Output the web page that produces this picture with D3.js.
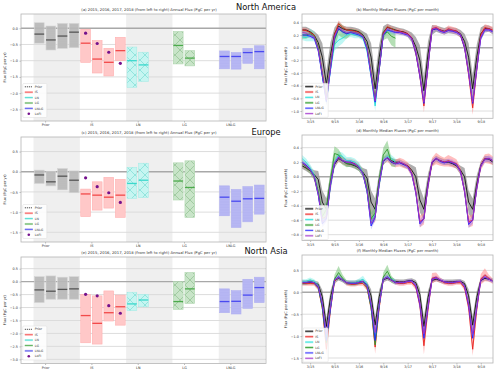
<!DOCTYPE html>
<html>
<head>
<meta charset="utf-8">
<script src="https://cdn.jsdelivr.net/npm/d3@7"></script>
<style>
  body { margin: 0; background: #fff; }
  text { font-family: "DejaVu Sans", sans-serif; }
</style>
</head>
<body>
<svg id="chart" width="500" height="374"></svg>
<script>
// ---- data ----
var regions = ["North America", "Europe", "North Asia"];
var groups = ["Prior", "IS", "LN", "LG", "LNLG"];
var seriesNames = ["Prior", "IS", "LN", "LG", "LNLG", "LoFI"];
var monthTickIdx = [2, 8, 14, 20, 26, 32, 38, 44];
var monthTickLabels = ["3/15", "9/15", "3/16", "9/16", "3/17", "9/17", "3/18", "9/18"];

// annual flux per year: [top, median, bottom] (PgC per yr)
var naPrior = [[0.17, -0.18, -0.46], [0.07, -0.36, -0.67], [0.15, -0.24, -0.62], [0.15, -0.12, -0.60]];
var naIS = [[-0.03, -0.46, -1.05], [-0.38, -0.95, -1.38], [-0.62, -1.05, -1.47], [-0.28, -0.69, -1.00]];
var naLN = [[-0.58, -1.00, -1.82], [-0.74, -1.13, -1.64]];
var naLG = [[-0.10, -0.53, -1.10], [-0.69, -0.92, -1.16]];
var naLNLG = [[-0.70, -0.87, -1.25], [-0.75, -0.87, -1.26], [-0.62, -0.75, -1.08], [-0.54, -0.72, -1.25]];
var naLoFI = [-0.15, -0.47, -0.74, -1.08];

var euPrior = [[0.04, -0.08, -0.29], [0.00, -0.25, -0.35], [0.08, -0.11, -0.45], [0.02, -0.21, -0.52]];
var euIS = [[-0.43, -0.55, -1.11], [-0.25, -0.58, -0.95], [-0.14, -0.63, -0.90], [-0.19, -0.58, -1.13]];
var euLN = [[0.11, -0.29, -0.66], [0.21, -0.21, -0.64]];
var euLG = [[0.22, -0.23, -0.70], [0.27, -0.39, -1.13]];
var euLNLG = [[-0.35, -0.63, -1.09], [-0.44, -0.73, -1.38], [-0.37, -0.67, -1.24], [-0.33, -0.66, -1.05]];
var euLoFI = [-0.15, -0.37, -0.52, -0.76];

var asPrior = [[0.19, -0.32, -0.81], [0.22, -0.37, -0.68], [0.17, -0.30, -0.68], [0.19, -0.28, -0.68]];
var asIS = [[-0.49, -1.31, -2.36], [-0.55, -1.61, -2.41], [-0.36, -1.20, -1.52], [-0.52, -0.97, -1.68]];
var asLN = [[-0.41, -0.86, -1.12], [-0.49, -0.71, -0.97]];
var asLG = [[0.00, -0.77, -1.07], [0.35, -0.28, -0.84]];
var asLNLG = [[-0.28, -0.77, -1.20], [-0.35, -0.76, -1.25], [0.09, -0.52, -1.03], [0.17, -0.23, -0.81]];
var asLoFI = [-0.49, -0.55, -0.93, -1.22];

// monthly median fluxes Jan 2015 - Dec 2018 (PgC per month), M = median, S = spread
var naPriorM = [0.28,0.28,0.25,0.20,0.08,-0.15,-0.58,-0.12,0.22,0.34,0.30,0.28,
  0.28,0.27,0.25,0.20,0.10,-0.15,-0.65,-0.15,0.24,0.32,0.30,0.28,
  0.26,0.25,0.22,0.16,0.02,-0.20,-0.68,-0.10,0.28,0.30,0.28,0.26,
  0.28,0.27,0.26,0.22,0.10,-0.15,-0.65,-0.15,0.22,0.30,0.30,0.26];
var naPriorS = [0.05,0.05,0.05,0.06,0.12,0.22,0.22,0.20,0.10,0.06,0.05,0.05,
  0.05,0.05,0.05,0.06,0.12,0.22,0.22,0.20,0.10,0.06,0.05,0.05,
  0.05,0.05,0.05,0.08,0.15,0.24,0.22,0.20,0.08,0.05,0.05,0.05,
  0.05,0.05,0.05,0.06,0.12,0.22,0.22,0.20,0.10,0.06,0.05,0.05];
var naISM = [0.28,0.27,0.24,0.20,0.00,-0.40,-0.82,-0.30,0.20,0.38,0.32,0.28,
  0.27,0.26,0.24,0.18,0.00,-0.40,-0.85,-0.35,0.22,0.33,0.30,0.27,
  0.26,0.24,0.22,0.15,-0.08,-0.45,-0.92,-0.30,0.30,0.32,0.28,0.25,
  0.30,0.28,0.26,0.20,0.00,-0.42,-0.95,-0.35,0.20,0.32,0.30,0.28];
var naISS = [0.04,0.04,0.04,0.04,0.05,0.07,0.09,0.07,0.05,0.05,0.04,0.04,
  0.04,0.04,0.04,0.04,0.05,0.07,0.08,0.07,0.05,0.04,0.04,0.04,
  0.04,0.04,0.04,0.04,0.05,0.07,0.10,0.07,0.05,0.04,0.04,0.04,
  0.05,0.05,0.05,0.04,0.05,0.08,0.11,0.08,0.05,0.05,0.05,0.05];
var naLNM = [0.17,0.16,0.20,0.18,-0.02,-0.45,-0.85,-0.35,0.05,0.12,0.15,0.20,
  0.22,0.20,0.20,0.16,-0.05,-0.45,-0.92,-0.35,0.20,0.28,0.26,0.25];
var naLNS = [0.05,0.06,0.10,0.08,0.05,0.05,0.08,0.08,0.10,0.10,0.08,0.05,
  0.05,0.05,0.05,0.05,0.05,0.06,0.08,0.06,0.05,0.05,0.05,0.05];
var naLGM = [0.20,0.20,0.22,0.18,0.00,-0.42,-0.80,-0.30,0.12,0.30,0.25,0.22,
  0.25,0.24,0.22,0.18,0.02,-0.40,-0.82,-0.30,0.20,0.25,0.18,0.15];
var naLGS = [0.06,0.06,0.05,0.05,0.05,0.06,0.06,0.08,0.12,0.10,0.10,0.08,
  0.05,0.05,0.05,0.05,0.05,0.05,0.06,0.08,0.08,0.10,0.14,0.15];
var naLNLGM = [0.20,0.20,0.18,0.15,-0.05,-0.45,-0.85,-0.35,0.15,0.30,0.25,0.22,
  0.24,0.22,0.20,0.17,-0.02,-0.45,-0.86,-0.35,0.20,0.28,0.26,0.24,
  0.24,0.22,0.20,0.14,-0.08,-0.45,-0.88,-0.30,0.28,0.30,0.26,0.24,
  0.27,0.26,0.24,0.20,0.00,-0.40,-0.88,-0.35,0.15,0.28,0.28,0.25];
var naLNLGS = [0.03,0.03,0.03,0.03,0.04,0.05,0.05,0.05,0.04,0.03,0.03,0.03,
  0.03,0.03,0.03,0.03,0.04,0.05,0.05,0.05,0.04,0.03,0.03,0.03,
  0.03,0.03,0.03,0.03,0.04,0.05,0.05,0.05,0.04,0.03,0.03,0.03,
  0.03,0.03,0.03,0.03,0.04,0.05,0.05,0.05,0.04,0.03,0.03,0.03];
var naLoFIM = [0.24,0.23,0.20,0.17,-0.03,-0.42,-0.83,-0.33,0.18,0.32,0.27,0.24,
  0.25,0.24,0.22,0.18,0.00,-0.42,-0.84,-0.33,0.21,0.30,0.27,0.25,
  0.25,0.23,0.21,0.15,-0.06,-0.43,-0.86,-0.28,0.29,0.31,0.27,0.25,
  0.28,0.27,0.25,0.21,0.02,-0.40,-0.86,-0.33,0.17,0.29,0.29,0.26];
var naLoFIS = [0.03,0.03,0.03,0.03,0.04,0.05,0.06,0.05,0.04,0.03,0.03,0.03,
  0.03,0.03,0.03,0.03,0.04,0.05,0.06,0.05,0.04,0.03,0.03,0.03,
  0.03,0.03,0.03,0.03,0.04,0.05,0.06,0.05,0.04,0.03,0.03,0.03,
  0.03,0.03,0.03,0.03,0.04,0.05,0.06,0.05,0.04,0.03,0.03,0.03];

var euPriorM = [0.15,0.12,0.08,0.03,-0.04,-0.35,-0.45,-0.08,0.17,0.25,0.22,0.18,
  0.17,0.15,0.12,0.06,-0.02,-0.35,-0.45,-0.05,0.21,0.26,0.22,0.20,
  0.20,0.17,0.15,0.09,0.00,-0.32,-0.45,-0.08,0.19,0.25,0.22,0.20,
  0.20,0.18,0.15,0.09,0.00,-0.35,-0.45,-0.10,0.16,0.25,0.24,0.20];
var euPriorS = [0.04,0.04,0.04,0.06,0.12,0.16,0.15,0.12,0.05,0.04,0.04,0.04,
  0.04,0.04,0.04,0.06,0.12,0.16,0.15,0.12,0.05,0.04,0.04,0.04,
  0.04,0.04,0.04,0.07,0.13,0.17,0.15,0.12,0.05,0.04,0.04,0.04,
  0.04,0.04,0.04,0.06,0.12,0.16,0.15,0.12,0.05,0.04,0.04,0.04];
var euISM = [0.18,0.15,0.10,0.00,-0.22,-0.58,-0.55,-0.10,0.20,0.26,0.22,0.20,
  0.20,0.18,0.14,0.05,-0.18,-0.60,-0.55,-0.08,0.22,0.26,0.20,0.18,
  0.20,0.18,0.15,0.05,-0.20,-0.62,-0.58,-0.12,0.20,0.25,0.22,0.20,
  0.22,0.20,0.18,0.08,-0.20,-0.62,-0.60,-0.15,0.15,0.25,0.25,0.22];
var euISS = [0.05,0.05,0.05,0.05,0.06,0.07,0.07,0.06,0.05,0.05,0.05,0.05,
  0.05,0.05,0.05,0.05,0.06,0.07,0.07,0.06,0.05,0.05,0.05,0.05,
  0.06,0.06,0.05,0.05,0.06,0.08,0.08,0.07,0.06,0.08,0.07,0.06,
  0.08,0.07,0.06,0.05,0.06,0.08,0.08,0.07,0.06,0.06,0.07,0.06];
var euLNM = [0.25,0.20,0.12,0.02,-0.22,-0.60,-0.55,-0.12,0.20,0.30,0.28,0.22,
  0.22,0.20,0.15,0.05,-0.20,-0.62,-0.52,-0.10,0.22,0.28,0.25,0.20];
var euLNS = [0.05,0.05,0.05,0.05,0.06,0.06,0.06,0.06,0.05,0.05,0.05,0.05,
  0.05,0.05,0.05,0.05,0.05,0.06,0.06,0.06,0.05,0.05,0.05,0.05];
var euLGM = [0.18,0.14,0.08,0.00,-0.20,-0.55,-0.45,-0.05,0.32,0.30,0.22,0.18,
  0.18,0.16,0.12,0.05,-0.15,-0.58,-0.50,-0.05,0.30,0.38,0.20,0.18];
var euLGS = [0.04,0.04,0.04,0.05,0.08,0.10,0.12,0.12,0.10,0.08,0.06,0.05,
  0.04,0.04,0.04,0.05,0.06,0.08,0.10,0.10,0.10,0.12,0.06,0.05];
var euLNLGM = [0.20,0.16,0.10,0.00,-0.25,-0.65,-0.58,-0.12,0.18,0.27,0.22,0.20,
  0.20,0.17,0.13,0.04,-0.20,-0.68,-0.56,-0.10,0.22,0.26,0.20,0.18,
  0.19,0.17,0.14,0.04,-0.22,-0.65,-0.58,-0.12,0.20,0.25,0.21,0.19,
  0.21,0.19,0.17,0.07,-0.20,-0.66,-0.60,-0.16,0.15,0.24,0.25,0.22];
var euLNLGS = [0.03,0.03,0.03,0.03,0.04,0.05,0.05,0.04,0.03,0.03,0.03,0.03,
  0.03,0.03,0.03,0.03,0.04,0.05,0.05,0.04,0.03,0.03,0.03,0.03,
  0.03,0.03,0.03,0.03,0.04,0.05,0.05,0.04,0.03,0.03,0.03,0.03,
  0.03,0.03,0.03,0.03,0.04,0.05,0.05,0.04,0.03,0.04,0.04,0.04];
var euLoFIM = [0.19,0.15,0.09,0.00,-0.24,-0.62,-0.56,-0.11,0.19,0.27,0.22,0.20,
  0.19,0.17,0.13,0.04,-0.19,-0.64,-0.55,-0.09,0.22,0.26,0.21,0.18,
  0.20,0.18,0.14,0.04,-0.21,-0.63,-0.58,-0.12,0.20,0.25,0.22,0.20,
  0.21,0.20,0.17,0.07,-0.20,-0.64,-0.60,-0.16,0.15,0.24,0.25,0.22];
var euLoFIS = [0.03,0.03,0.03,0.03,0.04,0.05,0.05,0.04,0.03,0.03,0.03,0.03,
  0.03,0.03,0.03,0.03,0.04,0.05,0.05,0.04,0.03,0.03,0.03,0.03,
  0.03,0.03,0.03,0.03,0.04,0.05,0.05,0.04,0.03,0.03,0.03,0.03,
  0.04,0.04,0.03,0.03,0.04,0.05,0.05,0.04,0.03,0.04,0.04,0.04];

var asPriorM = [0.22,0.22,0.23,0.22,0.18,-0.10,-0.78,-0.12,0.27,0.32,0.28,0.22,
  0.22,0.22,0.24,0.24,0.18,-0.08,-0.75,-0.10,0.29,0.32,0.28,0.25,
  0.24,0.24,0.26,0.27,0.22,-0.05,-0.78,-0.12,0.27,0.30,0.27,0.24,
  0.24,0.24,0.25,0.25,0.20,-0.08,-0.75,-0.12,0.27,0.32,0.30,0.26];
var asPriorS = [0.05,0.05,0.05,0.05,0.06,0.15,0.20,0.15,0.06,0.05,0.05,0.05,
  0.05,0.05,0.05,0.05,0.06,0.15,0.20,0.15,0.06,0.05,0.05,0.05,
  0.05,0.05,0.05,0.05,0.06,0.15,0.22,0.15,0.06,0.05,0.05,0.05,
  0.05,0.05,0.05,0.05,0.06,0.15,0.20,0.15,0.06,0.05,0.05,0.05];
var asISM = [0.20,0.20,0.20,0.20,0.10,-0.35,-1.30,-0.40,0.25,0.35,0.28,0.20,
  0.18,0.18,0.20,0.20,0.10,-0.35,-1.25,-0.35,0.30,0.35,0.28,0.22,
  0.20,0.20,0.22,0.22,0.12,-0.30,-1.22,-0.40,0.32,0.35,0.28,0.22,
  0.20,0.20,0.22,0.22,0.10,-0.35,-1.30,-0.40,0.30,0.40,0.32,0.25];
var asISS = [0.05,0.05,0.05,0.05,0.06,0.10,0.15,0.10,0.08,0.06,0.05,0.05,
  0.05,0.05,0.05,0.05,0.06,0.10,0.15,0.10,0.08,0.06,0.05,0.05,
  0.05,0.05,0.05,0.05,0.06,0.10,0.20,0.10,0.12,0.10,0.06,0.05,
  0.05,0.05,0.05,0.05,0.06,0.10,0.15,0.10,0.12,0.15,0.08,0.06];
var asLNM = [0.25,0.25,0.28,0.25,0.15,-0.30,-1.05,-0.35,0.28,0.35,0.28,0.22,
  0.22,0.22,0.25,0.30,0.18,-0.30,-1.05,-0.30,0.30,0.35,0.30,0.25];
var asLNS = [0.05,0.05,0.06,0.05,0.05,0.06,0.08,0.06,0.06,0.06,0.05,0.05,
  0.05,0.05,0.06,0.08,0.06,0.06,0.08,0.06,0.06,0.06,0.05,0.05];
var asLGM = [0.22,0.22,0.25,0.22,0.12,-0.35,-1.15,-0.35,0.30,0.45,0.32,0.22,
  0.20,0.20,0.22,0.25,0.12,-0.35,-1.20,-0.30,0.35,0.48,0.30,0.22];
var asLGS = [0.05,0.05,0.05,0.05,0.06,0.08,0.10,0.08,0.10,0.15,0.08,0.05,
  0.05,0.05,0.05,0.05,0.06,0.08,0.10,0.08,0.10,0.15,0.08,0.05];
var asLNLGM = [0.22,0.22,0.24,0.22,0.12,-0.30,-1.10,-0.38,0.28,0.35,0.28,0.22,
  0.20,0.20,0.22,0.25,0.15,-0.30,-1.10,-0.30,0.30,0.35,0.28,0.22,
  0.22,0.22,0.25,0.26,0.15,-0.28,-1.05,-0.35,0.30,0.33,0.28,0.24,
  0.22,0.22,0.24,0.25,0.14,-0.30,-1.05,-0.35,0.28,0.35,0.30,0.25];
var asLNLGS = [0.04,0.04,0.04,0.04,0.05,0.06,0.07,0.06,0.05,0.05,0.04,0.04,
  0.04,0.04,0.04,0.04,0.05,0.06,0.07,0.06,0.05,0.05,0.04,0.04,
  0.04,0.04,0.04,0.04,0.05,0.06,0.07,0.06,0.05,0.05,0.04,0.04,
  0.04,0.04,0.04,0.04,0.05,0.06,0.07,0.06,0.05,0.06,0.05,0.04];
var asLoFIM = [0.23,0.23,0.24,0.22,0.14,-0.25,-0.95,-0.33,0.28,0.34,0.28,0.22,
  0.21,0.21,0.23,0.25,0.15,-0.25,-0.92,-0.28,0.30,0.34,0.28,0.23,
  0.23,0.23,0.25,0.26,0.16,-0.24,-0.95,-0.33,0.30,0.33,0.28,0.24,
  0.23,0.23,0.24,0.25,0.15,-0.26,-0.95,-0.33,0.28,0.35,0.30,0.25];
var asLoFIS = [0.04,0.04,0.04,0.04,0.05,0.06,0.07,0.06,0.05,0.05,0.04,0.04,
  0.04,0.04,0.04,0.04,0.05,0.06,0.07,0.06,0.05,0.05,0.04,0.04,
  0.04,0.04,0.04,0.04,0.05,0.06,0.07,0.06,0.05,0.05,0.04,0.04,
  0.04,0.04,0.04,0.04,0.05,0.06,0.07,0.06,0.05,0.06,0.05,0.04];

// ---- tables built from the arrays above ----
var annual = [
  [naPrior, naIS, naLN, naLG, naLNLG],
  [euPrior, euIS, euLN, euLG, euLNLG],
  [asPrior, asIS, asLN, asLG, asLNLG]
];
var lofiPoints = [naLoFI, euLoFI, asLoFI];
var monthly = [
  [[naPriorM, naPriorS], [naISM, naISS], [naLNM, naLNS], [naLGM, naLGS], [naLNLGM, naLNLGS], [naLoFIM, naLoFIS]],
  [[euPriorM, euPriorS], [euISM, euISS], [euLNM, euLNS], [euLGM, euLGS], [euLNLGM, euLNLGS], [euLoFIM, euLoFIS]],
  [[asPriorM, asPriorS], [asISM, asISS], [asLNM, asLNS], [asLGM, asLGS], [asLNLGM, asLNLGS], [asLoFIM, asLoFIS]]
];

// ---- layout ----
var leftX = [21, 266], rightX = [302, 493];
var leftRows = [[14, 121], [137, 242], [257, 363.5]];
var rightRows = [[14, 118.3], [135, 240.5], [255, 363]];
var leftDomains = [[-2.86, 0.44], [-1.74, 0.86], [-3.16, 0.95]];
var rightDomains = [[-1.115, 0.532], [-0.88, 0.575], [-1.614, 0.852]];
var leftTicks = [[-2.5, -2, -1.5, -1, -0.5, 0], [-1.5, -1, -0.5, 0, 0.5], [-3, -2.5, -2, -1.5, -1, -0.5, 0, 0.5]];
var rightTicks = [[-1, -0.8, -0.6, -0.4, -0.2, 0, 0.2, 0.4], [-0.8, -0.6, -0.4, -0.2, 0, 0.2, 0.4], [-1.5, -1, -0.5, 0, 0.5]];
var letters = [["(a)", "(b)"], ["(c)", "(d)"], ["(e)", "(f)"]];

var lineColors = ["#111111", "#e8221e", "#22e0dc", "#2e9a2e", "#2020ff", "#a030c8"];
var bandColors = ["#8c8c8c", "#ff8a8a", "#80f0ea", "#6cbf6c", "#8080ff", "#c884e4"];
var bandOpacity = [0.7, 0.55, 0.5, 0.5, 0.35, 0.35];
var boxFill = ["#bdbdbd", "#ffc8c8", "#c6f5f1", "#c8e4c8", "#c6c6f6"];
var boxEdge = ["#d5d5d5", "#ffb0b0", "#a8ece6", "#b0d6b0", "#b0b0f0"];
var medColors = ["#555555", "#f24a4a", "#3ad8cc", "#4caa4c", "#4a4af0"];

var minus = function (s) { return s.replace("-", "\u2212"); };
var fmt1 = d3.format(".1f");

var svg = d3.select("#chart");
var defs = svg.append("defs");

// hatch patterns
function dotPattern(id, bg, dot, size) {
  var p = defs.append("pattern").attr("id", id).attr("patternUnits", "userSpaceOnUse")
    .attr("width", size).attr("height", size);
  p.append("rect").attr("width", size).attr("height", size).attr("fill", bg);
  p.append("circle").attr("cx", size / 2).attr("cy", size / 2).attr("r", 0.45).attr("fill", dot);
}
function crossPattern(id, bg, stroke) {
  var s = 10;
  var p = defs.append("pattern").attr("id", id).attr("patternUnits", "userSpaceOnUse")
    .attr("width", s).attr("height", s);
  p.append("rect").attr("width", s).attr("height", s).attr("fill", bg);
  p.append("path").attr("d", "M0,0L" + s + "," + s + "M" + s + ",0L0," + s)
    .attr("stroke", stroke).attr("stroke-width", 0.6).attr("fill", "none");
}
dotPattern("pPrior", boxFill[0], "#8f8f8f", 2);
dotPattern("pLNLG", boxFill[4], "#7a7ae8", 1.6);
crossPattern("pLN", boxFill[2], "#6fd8d0");
crossPattern("pLG", boxFill[3], "#86bb86");
var boxPattern = ["url(#pPrior)", boxFill[1], "url(#pLN)", "url(#pLG)", "url(#pLNLG)"];

var offsets = [-0.375, -0.125, 0.125, 0.375];
var barW = 0.21;

function drawAnnual(r) {
  var top = leftRows[r][0], bottom = leftRows[r][1];
  var x = d3.scaleLinear().domain([-0.77, 4.52]).range(leftX);
  var y = d3.scaleLinear().domain(leftDomains[r]).range([bottom, top]);
  var g = svg.append("g");

  // shaded group backgrounds
  g.selectAll(".band").data([0, 2, 4]).enter().append("rect")
    .attr("x", function (d) { return x(d - 0.5); })
    .attr("width", function (d) { return Math.min(x(d + 0.5), leftX[1]) - x(d - 0.5); })
    .attr("y", top).attr("height", bottom - top)
    .attr("fill", "#efefef");

  // grid
  g.selectAll(".grid").data(leftTicks[r]).enter().append("line")
    .attr("x1", leftX[0]).attr("x2", leftX[1])
    .attr("y1", function (d) { return y(d); }).attr("y2", function (d) { return y(d); })
    .attr("stroke", function (d) { return d === 0 ? "#a8a8a8" : "#d9d9d9"; })
    .attr("stroke-width", function (d) { return d === 0 ? 1.4 : 0.9; });

  // boxes
  var boxes = [];
  annual[r].forEach(function (rows, gi) {
    rows.forEach(function (v, yi) {
      boxes.push({ g: gi, cx: gi + offsets[yi], hi: v[0], med: v[1], lo: v[2] });
    });
  });
  g.selectAll(".box").data(boxes).enter().append("rect")
    .attr("x", function (d) { return x(d.cx - barW / 2); })
    .attr("width", function (d) { return x(d.cx + barW / 2) - x(d.cx - barW / 2); })
    .attr("y", function (d) { return y(d.hi); })
    .attr("height", function (d) { return y(d.lo) - y(d.hi); })
    .attr("fill", function (d) { return boxPattern[d.g]; })
    .attr("fill-opacity", function (d) { return d.g === 0 ? 0.9 : 1; })
    .attr("stroke", function (d) { return boxEdge[d.g]; })
    .attr("stroke-width", 0.6);
  g.selectAll(".med").data(boxes).enter().append("line")
    .attr("x1", function (d) { return x(d.cx - barW / 2); })
    .attr("x2", function (d) { return x(d.cx + barW / 2); })
    .attr("y1", function (d) { return y(d.med); }).attr("y2", function (d) { return y(d.med); })
    .attr("stroke", function (d) { return medColors[d.g]; })
    .attr("stroke-width", 1.3);

  // LoFI dots on IS columns
  g.selectAll(".lofi").data(lofiPoints[r]).enter().append("circle")
    .attr("cx", function (d, i) { return x(1 + offsets[i]); })
    .attr("cy", function (d) { return y(d); })
    .attr("r", 1.6).attr("fill", "#74108c");

  // axes
  var ax = g.append("g").attr("transform", "translate(0," + bottom + ")")
    .call(d3.axisBottom(x).tickValues(groups.map(function (d, i) { return i - 0.25; }))
      .tickFormat(function (d, i) { return groups[i]; }).tickSize(1.5).tickPadding(1.5));
  var ay = g.append("g").attr("transform", "translate(" + leftX[0] + ",0)")
    .call(d3.axisLeft(y).tickValues(leftTicks[r]).tickFormat(function (d) { return minus(fmt1(d)); })
      .tickSize(1.5).tickPadding(1.5));
  [ax, ay].forEach(function (a) {
    a.select(".domain").remove();
    a.selectAll("line").attr("stroke", "#777").attr("stroke-width", 0.5);
    a.selectAll("text").attr("font-size", 3.4).attr("fill", "#333").attr("font-family", "DejaVu Sans");
  });
  g.append("rect").attr("x", leftX[0]).attr("y", top).attr("width", leftX[1] - leftX[0])
    .attr("height", bottom - top).attr("fill", "none").attr("stroke", "#b5b5b5").attr("stroke-width", 0.8);

  g.append("text").attr("transform", "translate(6," + ((top + bottom) / 2) + ") rotate(-90)")
    .attr("text-anchor", "middle").attr("font-size", 3.6).attr("fill", "#333")
    .text("Flux (PgC per yr)");
  g.append("text").attr("x", 149).attr("y", top - 2.6).attr("text-anchor", "middle")
    .attr("font-size", 3.8).attr("fill", "#333")
    .text(letters[r][0] + "   2015, 2016, 2017, 2018 (from left to right) Annual Flux (PgC per yr)");

  // legend
  var lg = g.append("g").attr("transform", "translate(" + (leftX[0] + 1.8) + "," + (bottom - 37.5) + ")");
  lg.append("rect").attr("width", 24).attr("height", 34).attr("rx", 1)
    .attr("fill", "#fff").attr("fill-opacity", 0.85).attr("stroke", "#ddd").attr("stroke-width", 0.5);
  seriesNames.forEach(function (name, i) {
    var yy = 3.3 + i * 5.4;
    if (i === 5) {
      lg.append("circle").attr("cx", 6).attr("cy", yy).attr("r", 1.3).attr("fill", "#74108c");
    } else {
      if (i > 0) lg.append("rect").attr("x", 2).attr("y", yy - 1.1).attr("width", 8).attr("height", 2.2)
        .attr("fill", boxFill[i]);
      lg.append("line").attr("x1", 2).attr("x2", 10).attr("y1", yy).attr("y2", yy)
        .attr("stroke", i === 0 ? "#222" : medColors[i]).attr("stroke-width", 0.8)
        .attr("stroke-dasharray", i === 0 ? "1.2,0.8" : null);
    }
    lg.append("text").attr("x", 12).attr("y", yy + 1.1).attr("font-size", 3.2).attr("fill", "#333").text(name);
  });
}

function drawMonthly(r) {
  var top = rightRows[r][0], bottom = rightRows[r][1];
  var x = d3.scaleLinear().domain([0, 47]).range(rightX);
  var y = d3.scaleLinear().domain(rightDomains[r]).range([bottom, top]);
  var g = svg.append("g");
  var clipId = "clip" + r;
  defs.append("clipPath").attr("id", clipId).append("rect")
    .attr("x", rightX[0]).attr("y", top).attr("width", rightX[1] - rightX[0]).attr("height", bottom - top);

  g.selectAll(".grid").data(rightTicks[r]).enter().append("line")
    .attr("x1", rightX[0]).attr("x2", rightX[1])
    .attr("y1", function (d) { return y(d); }).attr("y2", function (d) { return y(d); })
    .attr("stroke", function (d) { return d === 0 ? "#a8a8a8" : "#d9d9d9"; })
    .attr("stroke-width", function (d) { return d === 0 ? 1.4 : 0.9; });

  var plot = g.append("g").attr("clip-path", "url(#" + clipId + ")");
  var area = d3.area().x(function (d) { return x(d.i); })
    .y0(function (d) { return y(d.m - d.s); }).y1(function (d) { return y(d.m + d.s); });
  var line = d3.line().x(function (d) { return x(d.i); }).y(function (d) { return y(d.m); });

  var series = monthly[r].map(function (pair, k) {
    return pair[0].map(function (m, i) { return { i: i, m: m, s: pair[1][i] }; });
  });
  plot.selectAll(".area").data(series).enter().append("path")
    .attr("d", area)
    .attr("fill", function (d, k) { return bandColors[k]; })
    .attr("fill-opacity", function (d, k) { return bandOpacity[k]; });
  plot.selectAll(".line").data(series).enter().append("path")
    .attr("d", line).attr("fill", "none")
    .attr("stroke", function (d, k) { return lineColors[k]; })
    .attr("stroke-width", 0.9);

  var ax = g.append("g").attr("transform", "translate(0," + bottom + ")")
    .call(d3.axisBottom(x).tickValues(monthTickIdx)
      .tickFormat(function (d, i) { return monthTickLabels[i]; }).tickSize(1.5).tickPadding(1.2));
  var ay = g.append("g").attr("transform", "translate(" + rightX[0] + ",0)")
    .call(d3.axisLeft(y).tickValues(rightTicks[r]).tickFormat(function (d) { return minus(fmt1(d)); })
      .tickSize(1.5).tickPadding(1.5));
  [ax, ay].forEach(function (a) {
    a.select(".domain").remove();
    a.selectAll("line").attr("stroke", "#777").attr("stroke-width", 0.5);
    a.selectAll("text").attr("font-size", 3.4).attr("fill", "#333").attr("font-family", "DejaVu Sans");
  });
  g.append("rect").attr("x", rightX[0]).attr("y", top).attr("width", rightX[1] - rightX[0])
    .attr("height", bottom - top).attr("fill", "none").attr("stroke", "#b5b5b5").attr("stroke-width", 0.8);

  g.append("text").attr("transform", "translate(287," + ((top + bottom) / 2) + ") rotate(-90)")
    .attr("text-anchor", "middle").attr("font-size", 3.6).attr("fill", "#333")
    .text("Flux (PgC per month)");
  g.append("text").attr("x", (rightX[0] + rightX[1]) / 2).attr("y", top - 2.6).attr("text-anchor", "middle")
    .attr("font-size", 3.8).attr("fill", "#333")
    .text(letters[r][1] + "  Monthly Median Fluxes (PgC per month)");

  var lg = g.append("g").attr("transform", "translate(" + (rightX[0] + 1.2) + "," + (bottom - 35) + ")");
  lg.append("rect").attr("width", 25).attr("height", 34).attr("rx", 1)
    .attr("fill", "#fff").attr("fill-opacity", 0.85).attr("stroke", "#ddd").attr("stroke-width", 0.5);
  seriesNames.forEach(function (name, i) {
    var yy = 3.3 + i * 5.4;
    lg.append("rect").attr("x", 2).attr("y", yy - 1.2).attr("width", 8).attr("height", 2.4)
      .attr("fill", bandColors[i]).attr("fill-opacity", bandOpacity[i]);
    lg.append("line").attr("x1", 2).attr("x2", 10).attr("y1", yy).attr("y2", yy)
      .attr("stroke", lineColors[i]).attr("stroke-width", 0.8);
    lg.append("text").attr("x", 12).attr("y", yy + 1.1).attr("font-size", 3.2).attr("fill", "#333").text(name);
  });
}

for (var r = 0; r < 3; r++) {
  drawAnnual(r);
  drawMonthly(r);
}

// region titles straddling the two columns
var titleY = [9.5, 134.5, 253.5];
svg.selectAll(".region").data(regions).enter().append("text")
  .attr("x", 266).attr("y", function (d, i) { return titleY[i]; })
  .attr("text-anchor", "middle").attr("font-size", 8.3).attr("fill", "#111")
  .text(function (d) { return d; });
</script>
</body>
</html>
